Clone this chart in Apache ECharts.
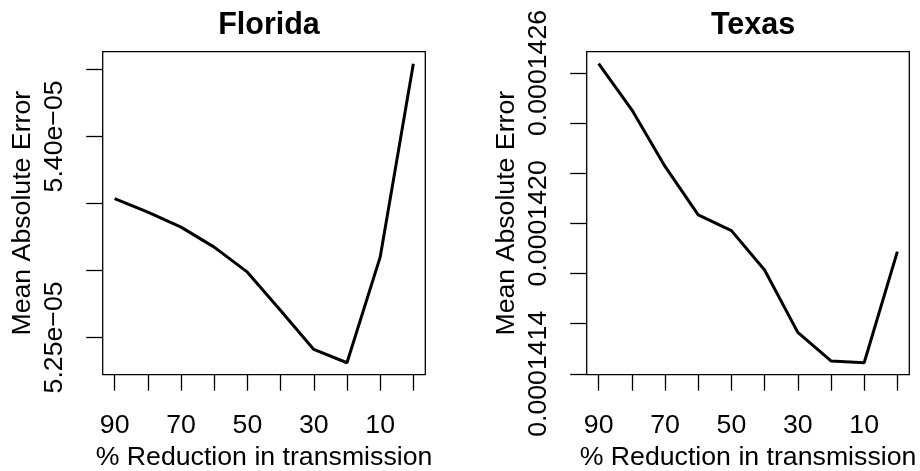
<!DOCTYPE html>
<html>
<head>
<meta charset="utf-8">
<script src="https://cdn.jsdelivr.net/npm/echarts@6/dist/echarts.min.js"></script>
<style>html,body{margin:0;padding:0;background:#fff}#c{width:920px;height:471px}</style>
</head>
<body>
<div id="c"></div>
<script>
const reduction = [90, 80, 70, 60, 50, 40, 30, 20, 10, 0];
const floridaMAE = [5.3535e-5, 5.3435e-5, 5.3323e-5, 5.3174e-5, 5.2987e-5, 5.2701e-5, 5.2410e-5, 5.2311e-5, 5.3099e-5, 5.4543e-5];
const texasMAE = [1.42637e-4, 1.42453e-4, 1.42227e-4, 1.42034e-4, 1.41971e-4, 1.41814e-4, 1.41565e-4, 1.41451e-4, 1.41444e-4, 1.41887e-4];

const xTickValues = [90, 80, 70, 60, 50, 40, 30, 20, 10, 0];
const xLabelValues = [90, 70, 50, 30, 10];

const flTickValues = [5.25e-5, 5.30e-5, 5.35e-5, 5.40e-5, 5.45e-5];
const flLabelValues = [5.25e-5, 5.40e-5];
const flLabelText = ['5.25e\u221205', '5.40e\u221205'];

const txTickValues = [1.414e-4, 1.416e-4, 1.418e-4, 1.420e-4, 1.422e-4, 1.424e-4, 1.426e-4];
const txLabelValues = [1.414e-4, 1.420e-4, 1.426e-4];
const txLabelText = ['0.0001414', '0.0001420', '0.0001426'];

const FONT = '"Liberation Sans", Arial, Helvetica, sans-serif';
const FS = 26.7;

function padMin(v) { return v.min - 0.04 * (v.max - v.min); }
function padMax(v) { return v.max + 0.04 * (v.max - v.min); }

function lookup(vals, texts) {
  return function (v) {
    for (let i = 0; i < vals.length; i++) {
      if (Math.abs(v - vals[i]) < Math.abs(vals[i]) * 1e-6) return texts[i];
    }
    return '';
  };
}

function xAxisFor(gi) {
  return {
    type: 'value', gridIndex: gi, inverse: true, position: 'bottom',
    min: padMin, max: padMax,
    axisLine: { show: false, onZero: false },
    splitLine: { show: false },
    axisTick: { show: true, inside: false, length: 16, customValues: xTickValues, lineStyle: { color: '#000', width: 1.3 } },
    axisLabel: { show: true, customValues: xLabelValues, margin: 51, color: '#000', fontSize: FS, fontFamily: FONT, align: 'center', verticalAlign: 'middle' },
    name: '% Reduction in transmission', nameLocation: 'middle', nameGap: 80,
    nameTextStyle: { color: '#000', fontSize: FS, fontFamily: FONT, verticalAlign: 'middle' }
  };
}

function yAxisFor(gi, ticks, labels, texts, margin) {
  return {
    type: 'value', gridIndex: gi, scale: true, position: 'left',
    min: padMin, max: padMax,
    axisLine: { show: false, onZero: false },
    splitLine: { show: false },
    axisTick: { show: true, inside: false, length: 16.5, customValues: ticks, lineStyle: { color: '#000', width: 1.3 } },
    axisLabel: { show: true, customValues: labels, formatter: lookup(labels, texts), rotate: 90, margin: margin, color: '#000', fontSize: FS, fontFamily: FONT, align: 'center', verticalAlign: 'middle' },
    name: 'Mean Absolute Error', nameLocation: 'middle', nameGap: 80, nameRotate: 90,
    nameTextStyle: { color: '#000', fontSize: FS, fontFamily: FONT, verticalAlign: 'middle', align: 'center' }
  };
}

const chart = echarts.init(document.getElementById('c'), null, { renderer: 'canvas' });
chart.setOption({
  animation: false,
  backgroundColor: '#fff',
  title: [
    { text: 'Florida', left: 264, top: 5, textAlign: 'center', textStyle: { color: '#000', fontWeight: 'bold', fontSize: 30.5, fontFamily: FONT } },
    { text: 'Texas', left: 748, top: 5, textAlign: 'center', textStyle: { color: '#000', fontWeight: 'bold', fontSize: 30.5, fontFamily: FONT } }
  ],
  grid: [
    { left: 102.7, top: 51.7, width: 322.6, height: 323, show: true, borderColor: '#000', borderWidth: 1.3, backgroundColor: 'transparent', containLabel: false, outerBoundsMode: 'none' },
    { left: 586.7, top: 51.7, width: 322.6, height: 323, show: true, borderColor: '#000', borderWidth: 1.3, backgroundColor: 'transparent', containLabel: false, outerBoundsMode: 'none' }
  ],
  xAxis: [xAxisFor(0), xAxisFor(1)],
  yAxis: [
    yAxisFor(0, flTickValues, flLabelValues, flLabelText, 48.5),
    yAxisFor(1, txTickValues, txLabelValues, txLabelText, 48)
  ],
  series: [
    { type: 'line', xAxisIndex: 0, yAxisIndex: 0, data: reduction.map((r, i) => [r, floridaMAE[i]]), showSymbol: false, symbol: 'none', lineStyle: { color: '#000', width: 3 }, silent: true },
    { type: 'line', xAxisIndex: 1, yAxisIndex: 1, data: reduction.map((r, i) => [r, texasMAE[i]]), showSymbol: false, symbol: 'none', lineStyle: { color: '#000', width: 3 }, silent: true }
  ]
});
</script>
</body>
</html>
